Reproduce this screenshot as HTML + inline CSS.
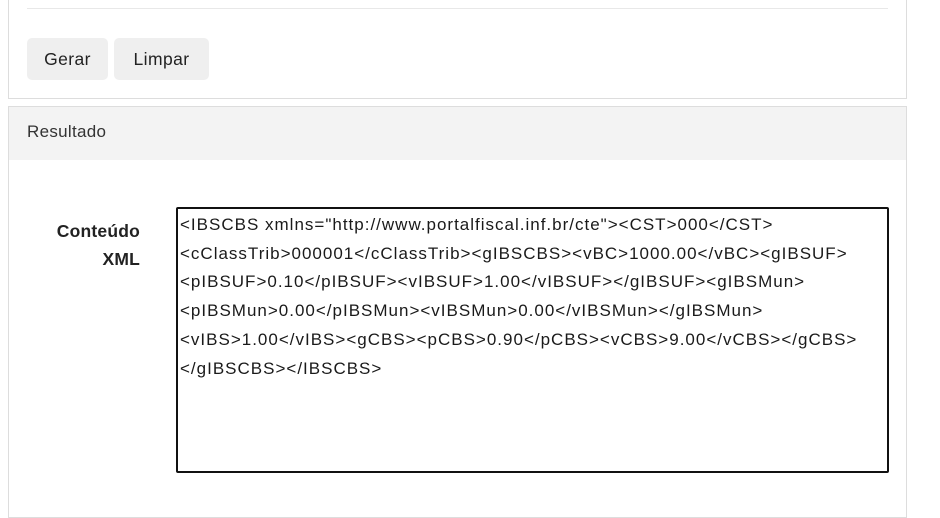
<!DOCTYPE html>
<html><head><meta charset="utf-8"><style>
body{margin:0;width:940px;height:505px;background:#fff;font-family:"Liberation Sans",sans-serif;position:relative;overflow:hidden;color:#222}
.abs{position:absolute}
.btn{position:absolute;top:38px;height:42px;background:#efefef;border-radius:5px;font-size:17.5px;letter-spacing:0.4px;line-height:42px;text-align:center;color:#222}
.xml{position:absolute;left:176px;top:207px;width:707px;height:260px;border:2px solid #111;border-radius:2px;font-size:17px;letter-spacing:1px;line-height:28.7px;padding:2px 0 0 2px;white-space:pre;color:#1a1a1a}
</style></head><body>
<div class="abs" style="left:8px;top:-2px;width:897px;height:100px;border:1px solid #ddd;border-top:none"></div>
<div class="abs" style="left:27px;top:8px;width:861px;height:1px;background:#e8e8e8"></div>
<div class="btn" style="left:27px;width:81px">Gerar</div>
<div class="btn" style="left:114px;width:95px">Limpar</div>
<div class="abs" style="left:8px;top:106px;width:897px;height:410px;border:1px solid #ddd"></div>
<div class="abs" style="left:9px;top:107px;width:897px;height:53px;background:#f3f3f3"></div>
<div class="abs" style="left:27px;top:122px;font-size:17px;letter-spacing:0.3px;color:#333">Resultado</div>
<div class="abs" style="left:30px;top:217px;width:110px;text-align:right;font-weight:bold;font-size:17.5px;letter-spacing:0.2px;line-height:28px;color:#222">Conteúdo<br>XML</div>
<div class="xml">&lt;IBSCBS xmlns="http://www.portalfiscal.inf.br/cte"&gt;&lt;CST&gt;000&lt;/CST&gt;
&lt;cClassTrib&gt;000001&lt;/cClassTrib&gt;&lt;gIBSCBS&gt;&lt;vBC&gt;1000.00&lt;/vBC&gt;&lt;gIBSUF&gt;
&lt;pIBSUF&gt;0.10&lt;/pIBSUF&gt;&lt;vIBSUF&gt;1.00&lt;/vIBSUF&gt;&lt;/gIBSUF&gt;&lt;gIBSMun&gt;
&lt;pIBSMun&gt;0.00&lt;/pIBSMun&gt;&lt;vIBSMun&gt;0.00&lt;/vIBSMun&gt;&lt;/gIBSMun&gt;
&lt;vIBS&gt;1.00&lt;/vIBS&gt;&lt;gCBS&gt;&lt;pCBS&gt;0.90&lt;/pCBS&gt;&lt;vCBS&gt;9.00&lt;/vCBS&gt;&lt;/gCBS&gt;
&lt;/gIBSCBS&gt;&lt;/IBSCBS&gt;</div>
</body></html>
